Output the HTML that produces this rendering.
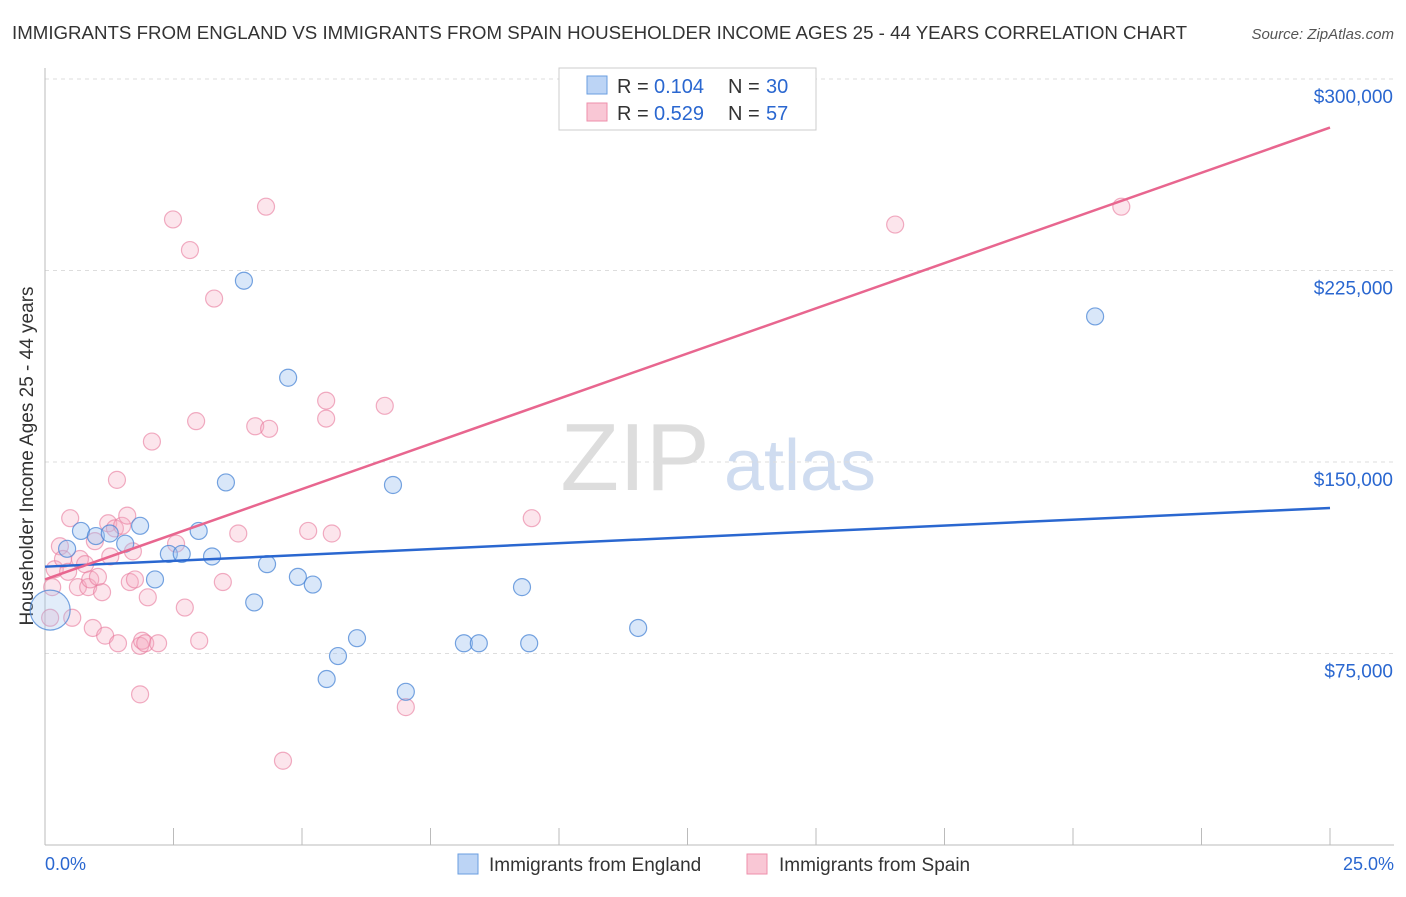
<!DOCTYPE html>
<html><head><meta charset="utf-8"><style>
body{margin:0;background:#fff;font-family:"Liberation Sans",sans-serif;}
svg text{font-family:"Liberation Sans",sans-serif;}
</style></head><body>
<svg id="c" width="1406" height="892" xmlns="http://www.w3.org/2000/svg">
<text x="12" y="39" font-size="18.7" fill="#333">IMMIGRANTS FROM ENGLAND VS IMMIGRANTS FROM SPAIN HOUSEHOLDER INCOME AGES 25 - 44 YEARS CORRELATION CHART</text>
<text x="1394" y="39" font-size="15" fill="#555" font-style="italic" text-anchor="end">Source: ZipAtlas.com</text>
<text x="33" y="456" font-size="19" fill="#333" text-anchor="middle" transform="rotate(-90 33 456)">Householder Income Ages 25 - 44 years</text>
<g><text x="635" y="490" font-size="96" fill="#ddd" text-anchor="middle" font-family="Liberation Serif">ZIP</text><text x="800" y="490" font-size="72" fill="#cfdcf0" text-anchor="middle">atlas</text></g>
<g id="grid"></g><g id="marks"></g>
<g>
<rect x="559" y="68" width="257" height="62" fill="#fff" stroke="#ccc"/>
<rect x="587" y="76" width="20" height="18" fill="#bcd4f5" stroke="#6a9ee0"/>
<rect x="587" y="103" width="20" height="18" fill="#f9c7d5" stroke="#ee8fab"/>
<text x="617" y="93" font-size="20" fill="#333">R =</text><text x="654" y="93" font-size="20" fill="#2a67d0">0.104</text>
<text x="728" y="93" font-size="20" fill="#333">N =</text><text x="766" y="93" font-size="20" fill="#2a67d0">30</text>
<text x="617" y="120" font-size="20" fill="#333">R =</text><text x="654" y="120" font-size="20" fill="#2a67d0">0.529</text>
<text x="728" y="120" font-size="20" fill="#333">N =</text><text x="766" y="120" font-size="20" fill="#2a67d0">57</text>
</g>
<g>
<rect x="458" y="854" width="20" height="20" fill="#bcd4f5" stroke="#6a9ee0"/>
<text x="489" y="871" font-size="19" fill="#333">Immigrants from England</text>
<rect x="747" y="854" width="20" height="20" fill="#f9c7d5" stroke="#ee8fab"/>
<text x="779" y="871" font-size="19" fill="#333">Immigrants from Spain</text>
</g>
<text x="45" y="870" font-size="18" fill="#2a67d0">0.0%</text>
<text x="1394" y="870" font-size="18" fill="#2a67d0" text-anchor="end">25.0%</text>
</svg>
<script>
const yTicks=[300000,225000,150000,75000];
const yTickLabels=["$300,000","$225,000","$150,000","$75,000"];
const englandX=[0.43,0.7,0.99,1.26,1.56,1.85,2.14,2.41,2.66,2.99,3.25,3.52,3.87,4.07,4.32,4.73,4.92,5.21,5.48,5.7,6.07,6.77,7.02,8.15,8.44,9.28,9.42,11.54,20.43,0.1];
const englandY=[116000,123000,121000,122000,118000,125000,104000,114000,114000,123000,113000,142000,221000,95000,110000,183000,105000,102000,65000,74000,81000,141000,60000,79000,79000,101000,79000,85000,207000,92000];
const spainX=[0.1,0.14,0.19,0.29,0.35,0.45,0.49,0.53,0.64,0.68,0.78,0.84,0.88,0.93,0.97,1.03,1.11,1.17,1.23,1.27,1.36,1.42,1.5,1.6,1.65,1.71,1.75,1.85,1.89,1.95,2.0,2.08,2.2,1.85,2.49,2.72,2.82,2.94,3.0,3.29,3.46,3.76,4.09,4.3,4.36,4.63,5.12,5.47,5.47,5.58,6.61,7.02,9.47,16.54,20.94,1.4,2.55];
const spainY=[89000,101000,108000,117000,112000,107000,128000,89000,101000,112000,110000,101000,104000,85000,119000,105000,99000,82000,126000,113000,124000,79000,125000,129000,103000,115000,104000,78000,80000,79000,97000,158000,79000,59000,245000,93000,233000,166000,80000,214000,103000,122000,164000,250000,163000,33000,123000,174000,167000,122000,172000,54000,128000,243000,250000,143000,118000];
const englandLine=[109000,132000];
const spainLine=[104000,281000];
const X=v=>45+v/25*1285, Y=v=>845-v/75000*191.5;
const NS='http://www.w3.org/2000/svg';
function mk(t,a,p){const e=document.createElementNS(NS,t);for(const k in a)e.setAttribute(k,a[k]);p.appendChild(e);return e;}
const g=document.getElementById('grid'),m=document.getElementById('marks');
yTicks.forEach((v,i)=>{
 const l=mk('line',{x1:45,x2:1394,y1:Y(v),y2:Y(v),stroke:'#ddd','stroke-dasharray':'4,4'},g);
 
 const t=mk('text',{x:1393,y:Y(v)+24,'font-size':19,fill:'#2a67d0','text-anchor':'end'},g);t.textContent=yTickLabels[i];
 
});
const ax=mk('line',{x1:45,x2:1394,y1:845,y2:845,stroke:'#bbb'},g);
const ay=mk('line',{x1:45,x2:45,y1:68,y2:845,stroke:'#bbb'},g);
for(let i=1;i<=10;i++){const t=mk('line',{x1:X(i*2.5),x2:X(i*2.5),y1:828,y2:845,stroke:'#bbb'},g);}
spainX.forEach((x,i)=>{const c=mk('circle',{cx:X(x),cy:Y(spainY[i]),r:8.5,fill:'rgba(246,170,193,0.3)',stroke:'rgba(232,120,155,0.6)','stroke-width':1.2},m);
 });
englandX.forEach((x,i)=>{const c=mk('circle',{cx:X(x),cy:Y(englandY[i]),r:i==29?20:8.5,fill:i==29?'rgba(160,195,240,0.3)':'rgba(160,195,240,0.4)',stroke:'rgba(74,134,214,0.75)','stroke-width':1.2},m);
 });
const b=mk('line',{x1:X(0),x2:X(25),y1:Y(englandLine[0]),y2:Y(englandLine[1]),stroke:'#2a67d0','stroke-width':2.5},m);

const p=mk('line',{x1:X(0),x2:X(25),y1:Y(spainLine[0]),y2:Y(spainLine[1]),stroke:'#e8668f','stroke-width':2.5},m);

</script>
</body></html>
